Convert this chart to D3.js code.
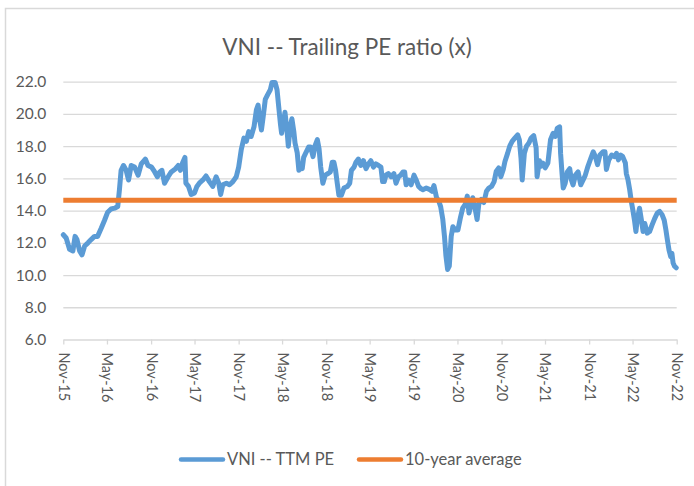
<!DOCTYPE html>
<html>
<head>
<meta charset="utf-8">
<script src="https://cdn.jsdelivr.net/npm/d3@7"></script>
<style>
  body { margin: 0; background: #fff; }
  text { font-family: Lato, "Open Sans", sans-serif; fill: #595959; }
</style>
</head>
<body>
<div id="chart"></div>
<script>
// data
const title = "VNI -- Trailing PE ratio (x)";
const seriesNames = ["VNI -- TTM PE", "10-year average"];
const avgPE = 14.65;
const yTicks = [6, 8, 10, 12, 14, 16, 18, 20, 22];
const xTickLabels = ["Nov-15","May-16","Nov-16","May-17","Nov-17","May-18","Nov-18","May-19",
                     "Nov-19","May-20","Nov-20","May-21","Nov-21","May-22","Nov-22"];

const dates = [
  "2015-11-01","2015-11-13","2015-11-27","2015-12-11","2015-12-20","2015-12-28","2016-01-08","2016-01-18",
  "2016-01-29","2016-02-12","2016-02-25","2016-03-10","2016-03-23","2016-04-07","2016-04-21","2016-05-04",
  "2016-05-18","2016-06-02","2016-06-15","2016-06-22","2016-06-29","2016-07-09","2016-07-20","2016-07-30",
  "2016-08-10","2016-08-24","2016-09-08","2016-09-21","2016-10-08","2016-10-19","2016-11-03","2016-11-16",
  "2016-11-27","2016-12-07","2016-12-16","2016-12-27","2017-01-11","2017-01-24","2017-02-11","2017-02-22",
  "2017-03-03","2017-03-12","2017-03-22","2017-03-26","2017-04-06","2017-04-17","2017-05-01","2017-05-11",
  "2017-05-21","2017-06-05","2017-06-18","2017-07-02","2017-07-16","2017-07-30","2017-08-10","2017-08-18",
  "2017-08-27","2017-09-11","2017-09-24","2017-10-08","2017-10-22","2017-11-01","2017-11-12","2017-11-23",
  "2017-12-03","2017-12-13","2017-12-23","2018-01-04","2018-01-14","2018-01-21","2018-01-28","2018-02-04",
  "2018-02-11","2018-02-20","2018-03-02","2018-03-13","2018-03-20","2018-04-02","2018-04-10","2018-04-17",
  "2018-04-24","2018-04-29","2018-05-08","2018-05-13","2018-05-22","2018-05-27","2018-06-04","2018-06-11",
  "2018-06-19","2018-06-24","2018-07-03","2018-07-10","2018-07-18","2018-07-24","2018-07-30","2018-08-10",
  "2018-08-20","2018-08-28","2018-09-07","2018-09-16","2018-09-25","2018-10-02","2018-10-09","2018-10-18",
  "2018-10-28","2018-11-09","2018-11-18","2018-11-26","2018-12-03","2018-12-10","2018-12-17","2018-12-24",
  "2019-01-03","2019-01-14","2019-01-28","2019-02-07","2019-02-14","2019-02-25","2019-03-05","2019-03-15",
  "2019-03-25","2019-04-05","2019-04-16","2019-04-26","2019-05-06","2019-05-17","2019-05-27","2019-06-07",
  "2019-06-17","2019-06-24","2019-07-01","2019-07-08","2019-07-18","2019-07-29","2019-08-10","2019-08-19",
  "2019-08-29","2019-09-07","2019-09-17","2019-09-24","2019-09-30","2019-10-10","2019-10-21","2019-11-02",
  "2019-11-11","2019-11-21","2019-12-02","2019-12-09","2019-12-23","2020-01-07","2020-01-16","2020-01-24",
  "2020-02-04","2020-02-13","2020-02-21","2020-03-01","2020-03-08","2020-03-14","2020-03-21","2020-03-28",
  "2020-04-05","2020-04-12","2020-04-22","2020-05-03","2020-05-14","2020-05-23","2020-06-03","2020-06-11",
  "2020-06-18","2020-06-25","2020-07-04","2020-07-14","2020-07-22","2020-07-29","2020-08-09","2020-08-19",
  "2020-08-30","2020-09-09","2020-09-20","2020-10-01","2020-10-10","2020-10-20","2020-10-29","2020-11-08",
  "2020-11-15","2020-11-26","2020-12-05","2020-12-15","2020-12-26","2021-01-07","2021-01-14","2021-01-21",
  "2021-01-26","2021-02-04","2021-02-13","2021-02-23","2021-03-04","2021-03-15","2021-03-25","2021-03-29",
  "2021-04-08","2021-04-13","2021-04-22","2021-05-02","2021-05-13","2021-05-24","2021-06-04","2021-06-13",
  "2021-06-21","2021-07-01","2021-07-05","2021-07-11","2021-07-16","2021-07-24","2021-08-02","2021-08-12",
  "2021-08-19","2021-08-26","2021-09-05","2021-09-16","2021-09-27","2021-10-07","2021-10-16","2021-10-27",
  "2021-11-08","2021-11-18","2021-11-27","2021-12-06","2021-12-16","2021-12-29","2022-01-06","2022-01-12",
  "2022-01-22","2022-02-03","2022-02-14","2022-02-23","2022-03-03","2022-03-12","2022-03-21","2022-04-01",
  "2022-04-05","2022-04-12","2022-04-19","2022-04-26","2022-05-02","2022-05-09","2022-05-15","2022-05-20",
  "2022-05-30","2022-06-07","2022-06-14","2022-06-21","2022-07-01","2022-07-11","2022-07-21","2022-08-01",
  "2022-08-12","2022-08-22","2022-09-01","2022-09-10","2022-09-17","2022-09-23","2022-09-30","2022-10-07",
  "2022-10-12","2022-10-17","2022-10-23","2022-10-30"
];
const pe = [
  12.5,12.3,11.6,11.5,12.4,12.2,11.5,11.25,
  11.8,12.0,12.2,12.4,12.4,12.9,13.4,13.9,
  14.1,14.15,14.25,15.3,16.5,16.8,16.5,15.9,
  16.8,16.7,16.2,16.9,17.2,16.8,16.7,16.4,
  16.1,16.4,16.5,15.7,16.1,16.4,16.6,16.8,
  16.5,16.95,17.3,15.7,15.5,15.0,15.1,15.5,
  15.7,15.9,16.15,15.8,15.5,16.1,15.7,15.0,
  15.6,15.7,15.6,15.8,16.1,16.7,17.8,18.5,
  18.3,18.9,18.6,19.2,20.25,20.55,19.6,19.0,
  19.8,20.9,21.2,21.5,21.95,21.95,21.5,20.45,
  19.4,18.8,19.6,20.1,18.9,18.0,19.2,19.7,
  18.9,18.2,17.6,16.5,16.9,16.6,17.3,17.65,
  17.95,17.95,17.35,18.05,18.4,17.85,16.7,15.7,
  16.2,16.3,16.4,17.0,17.0,16.5,15.7,14.95,
  14.95,15.4,15.5,15.7,16.5,16.7,17.0,17.2,
  16.8,17.1,16.6,16.9,17.1,16.7,16.9,16.8,
  16.7,15.8,15.8,16.2,16.3,16.1,16.3,15.7,
  16.1,16.2,16.4,16.4,15.6,15.9,15.6,16.2,
  15.9,15.5,15.35,15.3,15.4,15.3,15.2,15.55,
  14.8,14.6,14.25,13.45,12.4,11.2,10.35,10.55,
  12.4,13.0,12.8,12.8,13.6,14.15,14.4,14.9,
  13.85,14.25,14.8,14.1,13.45,14.4,14.7,14.5,
  15.2,15.4,15.5,15.8,16.45,16.65,16.1,16.55,
  17.05,17.55,18.0,18.3,18.5,18.7,18.4,17.25,
  15.9,17.55,18.0,18.2,18.5,18.65,17.9,16.1,
  17.1,16.75,16.95,16.65,16.95,18.4,18.8,18.6,
  19.1,19.2,17.55,16.3,15.4,15.7,16.4,16.6,
  15.9,15.6,16.2,16.4,15.6,15.9,16.2,16.75,
  17.25,17.65,17.35,16.85,17.45,17.65,17.65,16.55,
  17.15,17.45,17.35,17.55,17.15,17.45,17.35,16.95,
  16.3,15.9,15.3,14.55,14.05,13.4,12.7,13.4,
  14.15,13.4,12.7,13.2,12.6,12.7,13.1,13.5,
  13.85,13.95,13.75,13.4,12.8,12.2,11.55,11.15,
  11.35,10.75,10.55,10.45
];

const W = 694, H = 486;
const plotL = 63.3, plotR = 676.7, plotT = 81.7, plotB = 339.5;
const blue = "#5b9bd5", orange = "#ed7d31";

const parse = d3.timeParse("%Y-%m-%d");
const data = dates.map((d, i) => ({ date: parse(d), v: pe[i] }));
const tickDates = xTickLabels.map(s => d3.timeParse("%b-%y")(s));

const svg = d3.select("#chart").append("svg").attr("width", W).attr("height", H);

// chart frame
svg.append("rect").attr("x", 5.5).attr("y", 8.5).attr("width", 720).attr("height", 520)
  .attr("fill", "#fff").attr("stroke", "#d9d9d9").attr("stroke-width", 1.5);

const x = d3.scaleTime().domain([tickDates[0], tickDates[tickDates.length - 1]]).range([plotL, plotR]);
const y = d3.scaleLinear().domain([6, 22]).range([plotB, plotT]);

// y axis + gridlines
const gy = svg.append("g").attr("transform", `translate(${plotL},0)`)
  .call(d3.axisLeft(y).tickValues(yTicks).tickFormat(d3.format(".1f")).tickSize(-(plotR - plotL)).tickPadding(17));
gy.select(".domain").remove();
gy.selectAll(".tick line").attr("stroke", "#d9d9d9").attr("stroke-width", 1.3)
  .filter(d => d === 6).remove();
gy.selectAll(".tick text").style("font-size", "15.5px").attr("fill", "#595959");

// x axis
const gx = svg.append("g").attr("transform", `translate(0,${plotB})`)
  .call(d3.axisBottom(x).tickValues(tickDates).tickFormat((d, i) => xTickLabels[i]).tickSize(5).tickSizeOuter(0));
gx.select(".domain").attr("stroke", "#d9d9d9").attr("stroke-width", 1.3);
gx.selectAll(".tick line").attr("stroke", "#d9d9d9").attr("stroke-width", 1.3);
gx.selectAll(".tick text")
  .style("font-size", "14.5px").attr("fill", "#595959")
  .attr("text-anchor", "start").attr("dy", "0.35em")
  .attr("transform", "translate(0,13) rotate(90)").attr("x", 0).attr("y", 0);

// series
svg.append("path").datum(data)
  .attr("fill", "none").attr("stroke", blue).attr("stroke-width", 5)
  .attr("stroke-linejoin", "round").attr("stroke-linecap", "round")
  .attr("d", d3.line().x(d => x(d.date)).y(d => y(d.v)));

svg.append("line")
  .attr("x1", x(tickDates[0])).attr("x2", x(tickDates[tickDates.length - 1]))
  .attr("y1", y(avgPE)).attr("y2", y(avgPE))
  .attr("stroke", orange).attr("stroke-width", 5);

// title
svg.append("text").attr("x", 347).attr("y", 55).attr("text-anchor", "middle")
  .style("font-size", "22.5px").text(title);

// legend
const legend = [
  { name: seriesNames[0], color: blue, x: 181 },
  { name: seriesNames[1], color: orange, x: 359 }
];
const lg = svg.append("g").selectAll("g").data(legend).join("g")
  .attr("transform", d => `translate(${d.x},459.5)`);
lg.append("line").attr("x1", 0).attr("x2", 42).attr("stroke", d => d.color)
  .attr("stroke-width", 4.5).attr("stroke-linecap", "round");
lg.append("text").attr("x", 46).attr("dy", "0.35em").style("font-size", "16.5px").text(d => d.name);
</script>
</body>
</html>
